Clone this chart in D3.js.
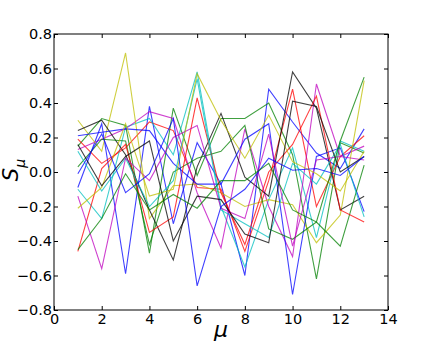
<!DOCTYPE html>
<html>
<head>
<meta charset="utf-8">
<script src="https://cdn.jsdelivr.net/npm/d3@7"></script>
<style>
  body { margin: 0; background: #fff; }
  text { font-family: "DejaVu Sans", sans-serif; }
</style>
</head>
<body>
<script>
// mu positions and tick values
var mu = [1, 2, 3, 4, 5, 6, 7, 8, 9, 10, 11, 12, 13];
var xTicks = [0, 2, 4, 6, 8, 10, 12, 14];
var yTicks = [-0.8, -0.6, -0.4, -0.2, 0.0, 0.2, 0.4, 0.6, 0.8];

// matplotlib classic colour cycle
var cycle = ["#0000ff", "#008000", "#ff0000", "#00bfbf", "#bf00bf", "#bfbf00", "#000000"];

// S_mu for each run
var b1 = [-0.09, 0.28, -0.59, 0.38, -0.30, 0.17, -0.07, -0.60, 0.48, 0.29, 0.11, 0.02, 0.25];
var g1 = [0.15, 0.31, 0.27, -0.47, 0.37, -0.02, 0.31, 0.31, 0.40, 0.10, -0.62, 0.17, 0.11];
var r1 = [0.19, 0.05, 0.14, 0.29, 0.24, -0.09, -0.10, -0.46, -0.05, 0.48, -0.20, 0.09, 0.21];
var c1 = [-0.10, -0.27, 0.26, 0.31, 0.10, 0.58, -0.20, -0.55, -0.16, 0.14, -0.38, 0.18, 0.12];
var m1 = [0.13, 0.19, 0.25, 0.35, 0.31, -0.12, -0.44, 0.25, -0.20, -0.49, 0.51, 0.09, 0.15];
var y1 = [0.30, 0.12, 0.69, -0.27, -0.08, -0.07, -0.12, -0.20, -0.16, -0.19, -0.41, -0.25, 0.53];
var k1 = [0.24, 0.30, 0.10, -0.22, -0.51, 0.03, 0.34, -0.03, -0.14, 0.58, 0.37, -0.22, -0.14];
var b2 = [0.21, 0.23, 0.25, 0.24, 0.05, -0.07, -0.07, 0.19, 0.28, -0.71, 0.09, 0.14, -0.23];
var g2 = [0.03, 0.19, 0.18, -0.42, 0.00, 0.08, 0.12, 0.27, -0.33, -0.39, -0.29, -0.43, 0.04];
var r2 = [-0.46, 0.02, 0.16, -0.35, -0.26, 0.43, -0.12, -0.42, 0.00, 0.16, 0.44, -0.22, -0.29];
var c2 = [0.12, -0.11, 0.08, -0.20, -0.05, 0.54, -0.22, -0.30, -0.38, 0.05, -0.07, 0.16, -0.26];
var m2 = [-0.14, -0.56, 0.08, -0.05, 0.20, 0.27, -0.21, -0.27, 0.22, -0.43, 0.07, 0.09, 0.07];
var y2 = [-0.21, -0.09, 0.28, -0.14, -0.10, 0.57, 0.30, 0.08, 0.33, 0.06, -0.01, -0.11, 0.12];
var k2 = [0.16, -0.08, 0.09, 0.18, -0.40, -0.14, -0.16, -0.36, -0.41, 0.41, 0.38, 0.00, 0.09];
var b3 = [-0.01, 0.22, -0.12, -0.01, 0.31, -0.66, -0.20, -0.10, 0.08, 0.01, 0.02, -0.02, 0.09];
var g3 = [-0.45, -0.27, -0.01, -0.22, -0.13, -0.21, -0.05, -0.05, 0.05, -0.22, -0.29, 0.18, 0.55];

var runs = [b1, g1, r1, c1, m1, y1, k1, b2, g2, r2, c2, m2, y2, k2, b3, g3];

var margin = {top: 34, right: 43, bottom: 35, left: 54},
    width = 431 - margin.left - margin.right,
    height = 345 - margin.top - margin.bottom;

var x = d3.scaleLinear().domain([0, 14]).range([0, width]);
var y = d3.scaleLinear().domain([-0.8, 0.8]).range([height, 0]);

var svg = d3.select("body")
    .append("svg")
    .attr("width", 431)
    .attr("height", 345);

var g = svg.append("g")
    .attr("transform", "translate(" + margin.left + "," + margin.top + ")");

var line = d3.line()
    .x(function(d, i) { return x(mu[i]); })
    .y(function(d) { return y(d); });

g.selectAll(".run")
    .data(runs)
    .enter().append("path")
      .attr("class", "run")
      .attr("d", line)
      .attr("fill", "none")
      .attr("stroke", function(d, i) { return cycle[i % cycle.length]; })
      .attr("stroke-opacity", 0.75)
      .attr("stroke-width", 1.1);

// axes, ticks pointing inward on all four sides
var fmt = d3.format(".1f");

g.append("g")
    .attr("transform", "translate(0," + height + ")")
    .call(d3.axisBottom(x).tickValues(xTicks).tickSize(-4).tickPadding(4))
    .call(function(a) { a.select(".domain").remove(); });

g.append("g")
    .call(d3.axisTop(x).tickValues(xTicks).tickSize(-4).tickFormat(""))
    .call(function(a) { a.select(".domain").remove(); });

g.append("g")
    .call(d3.axisLeft(y).tickValues(yTicks).tickFormat(fmt).tickSize(-4).tickPadding(2))
    .call(function(a) { a.select(".domain").remove(); });

g.append("g")
    .attr("transform", "translate(" + width + ",0)")
    .call(d3.axisRight(y).tickValues(yTicks).tickSize(-4).tickFormat(""))
    .call(function(a) { a.select(".domain").remove(); });

g.selectAll(".tick text")
    .attr("font-size", 14.5)
    .attr("font-family", "DejaVu Sans")
    .attr("fill", "#000");

g.append("rect")
    .attr("width", width)
    .attr("height", height)
    .attr("fill", "none")
    .attr("stroke", "#000")
    .attr("stroke-width", 1);

// axis labels
svg.append("text")
    .attr("x", margin.left + width / 2)
    .attr("y", 337)
    .attr("text-anchor", "middle")
    .attr("font-size", 22)
    .attr("font-style", "italic")
    .text("μ");

var yl = svg.append("text")
    .attr("transform", "translate(18,170) rotate(-90)")
    .attr("text-anchor", "middle")
    .attr("font-size", 21)
    .attr("font-style", "italic");
yl.append("tspan").text("S");
yl.append("tspan").attr("font-size", 14).attr("dy", 7).text("μ");
</script>
</body>
</html>
